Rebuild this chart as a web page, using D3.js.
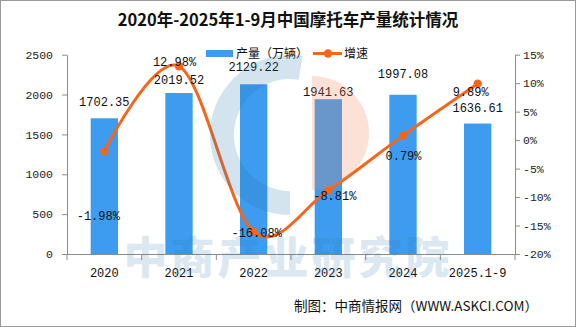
<!DOCTYPE html>
<html><head><meta charset="utf-8">
<script src="https://cdn.jsdelivr.net/npm/d3@7"></script>
<style>
html,body{margin:0;padding:0;background:#fff;}
svg{display:block;}
</style></head>
<body>
<svg id="c" width="576" height="327"></svg>
<script>
// ---- data ----
const categories = ["2020","2021","2022","2023","2024","2025.1-9"];
const production = [1702.35, 2019.52, 2129.22, 1941.63, 1997.08, 1636.61];
const growth = [-1.98, 12.98, -16.08, -8.81, 0.79, 9.89];
const leftTicks = [0,500,1000,1500,2000,2500];
const rightTicks = [15,10,5,0,-5,-10,-15,-20];

// ---- label placement (style, not data) ----
const barLabelOffset = [-16.6, -13, -17.6, -7.5, -21, -16];
const pctLabelOffset = [[-6,64.6],[-4.5,-4.5],[3,1],[6.5,5.5],[0.5,20.5],[-7,8]];

const svg = d3.select("#c");
const W = 576, H = 327;
const X0 = 67, X1 = 515, Y0 = 254, Y1 = 54.7;
const axisColor = "#8c8c8c";
const barColor = "#3d9cf0";
const lineColor = "#f4661b";
const monoFont = "'Liberation Mono', monospace";
const cjkFont = "'Noto Sans CJK SC', sans-serif";

// frame
svg.append("rect").attr("x",0.5).attr("y",0.5).attr("width",W-1).attr("height",H-1)
  .attr("fill","#fff").attr("stroke","#9a9a9a");

const x = d3.scaleBand().domain(categories).range([X0,X1]).paddingInner(0.634).paddingOuter(0.317);
const yL = d3.scaleLinear().domain([0,2500]).range([Y0,Y1]);
const yR = d3.scaleLinear().domain([-20,15]).range([Y0,Y1]);
const cx = c => x(c) + x.bandwidth()/2;

// title
svg.append("text").attr("x",288).attr("y",26).attr("text-anchor","middle")
  .style("font-family",cjkFont).style("font-weight","700").style("font-size","16.5px").attr("fill","#111")
  .text("2020年-2025年1-9月中国摩托车产量统计情况");

// bars
svg.append("g").selectAll("rect").data(production).join("rect")
  .attr("x",(d,i)=>x(categories[i])).attr("width",x.bandwidth())
  .attr("y",d=>yL(d)).attr("height",d=>Y0-yL(d)).attr("fill",barColor);

// axes
const gL = svg.append("g").attr("transform",`translate(${X0},0)`)
  .call(d3.axisLeft(yL).tickValues(leftTicks).tickSize(5).tickPadding(9).tickSizeOuter(0).tickFormat(d3.format("d")));
const gR = svg.append("g").attr("transform",`translate(${X1},0)`)
  .call(d3.axisRight(yR).tickValues(rightTicks).tickSize(5).tickPadding(3).tickSizeOuter(0).tickFormat(d=>d+"%"));
[gL,gR].forEach(g=>{
  g.select(".domain").attr("stroke",axisColor);
  g.selectAll(".tick line").attr("stroke",axisColor);
  g.selectAll(".tick text").attr("fill","#222").style("font-family",monoFont).style("font-size","11.5px");
});
// x-axis ticks at category boundaries
svg.append("g").selectAll("line").data(d3.range(categories.length+1)).join("line")
  .attr("x1",i=>X0+i*x.step()).attr("x2",i=>X0+i*x.step())
  .attr("y1",Y0).attr("y2",Y0+6).attr("stroke",axisColor);
svg.append("line").attr("x1",X0).attr("x2",X1).attr("y1",Y0+0.5).attr("y2",Y0+0.5).attr("stroke",axisColor);
svg.append("g").selectAll("text").data(categories).join("text")
  .attr("x",d=>cx(d)).attr("y",277).attr("text-anchor","middle")
  .style("font-family",monoFont).style("font-size","12px").attr("fill","#111").text(d=>d);

// growth line
const pts = growth.map((g,i)=>[cx(categories[i]), yR(g)]);
svg.append("path").attr("d", d3.line().curve(d3.curveCatmullRom.alpha(0))(pts))
  .attr("fill","none").attr("stroke",lineColor).attr("stroke-width",3);
svg.append("g").selectAll("circle").data(pts).join("circle")
  .attr("cx",d=>d[0]).attr("cy",d=>d[1]).attr("r",4.2).attr("fill",lineColor);

// bar labels
svg.append("g").selectAll("text").data(production).join("text")
  .attr("x",(d,i)=>cx(categories[i])).attr("y",(d,i)=>yL(d)+barLabelOffset[i])
  .attr("dy","0.35em").attr("text-anchor","middle")
  .style("font-family",monoFont).style("font-size","12px").attr("fill","#111")
  .text(d=>d.toFixed(2));
// pct labels
svg.append("g").selectAll("text").data(growth).join("text")
  .attr("x",(d,i)=>pts[i][0]+pctLabelOffset[i][0]).attr("y",(d,i)=>pts[i][1]+pctLabelOffset[i][1])
  .attr("dy","0.35em").attr("text-anchor","middle")
  .style("font-family",monoFont).style("font-size","12px").attr("fill","#111")
  .text(d=>d.toFixed(2)+"%");

// legend
const lg = svg.append("g");
lg.append("rect").attr("x",206).attr("y",50).attr("width",27).attr("height",7).attr("fill",barColor);
lg.append("text").attr("x",236).attr("y",53.5).attr("dy","0.35em")
  .style("font-family",cjkFont).style("font-size","12px").attr("fill","#111").text("产量（万辆）");
lg.append("line").attr("x1",313).attr("x2",342).attr("y1",53.5).attr("y2",53.5).attr("stroke",lineColor).attr("stroke-width",3);
lg.append("circle").attr("cx",328).attr("cy",53.5).attr("r",4.2).attr("fill",lineColor);
lg.append("text").attr("x",344).attr("y",53.5).attr("dy","0.35em")
  .style("font-family",cjkFont).style("font-size","12px").attr("fill","#111").text("增速");

// watermark (logo + text)
const wm = svg.append("g").attr("pointer-events","none");
const arc = d3.arc();
wm.append("path").attr("transform","translate(290,135)")
  .attr("d",arc({innerRadius:56,outerRadius:80,startAngle:Math.PI,endAngle:2.05*Math.PI}))
  .attr("fill","#2a78ae").attr("opacity",0.2);
wm.append("path").attr("transform","translate(312,133)")
  .attr("d",arc({innerRadius:0,outerRadius:57,startAngle:0,endAngle:Math.PI}))
  .attr("fill","#f0895a").attr("opacity",0.25);
wm.append("text").attr("x",288).attr("y",259).attr("dy","0.35em").attr("text-anchor","middle")
  .style("font-family",cjkFont).style("font-weight","900").style("font-size","44px")
  .style("letter-spacing","3px")
  .attr("fill","#2a78ae").attr("opacity",0.16).text("中商产业研究院");

// source
svg.append("text").attr("x",538).attr("y",306).attr("dy","0.35em").attr("text-anchor","end")
  .style("font-family",cjkFont).style("font-size","13.5px").attr("fill","#111")
  .text("制图：中商情报网（WWW.ASKCI.COM）");
</script>
</body></html>
